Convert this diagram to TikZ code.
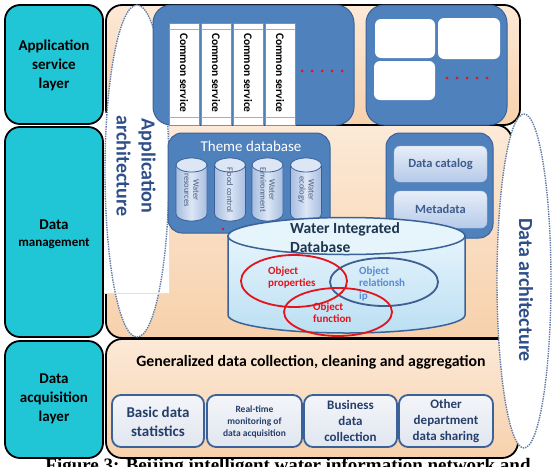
\documentclass[tikz,border=0pt]{standalone}
\usepackage{fontspec}
\setmainfont{Carlito}
\newfontfamily\capfont{Liberation Serif}

\definecolor{layercyan}{HTML}{21C6D6}
\definecolor{peachtop}{HTML}{FCE9D7}
\definecolor{peachbot}{HTML}{F7D1AC}
\definecolor{boxblue}{HTML}{4F81BD}
\definecolor{boxedge}{HTML}{3A6298}
\definecolor{archblue}{HTML}{2E4F8A}
\definecolor{cyllight}{HTML}{DCE6F5}
\definecolor{cyldark}{HTML}{A7BDE0}
\definecolor{cylink}{HTML}{4A5E80}
\definecolor{dblight}{HTML}{E6F4FC}
\definecolor{dbdark}{HTML}{BCDFF3}
\definecolor{dbink}{HTML}{1F3550}
\definecolor{objred}{HTML}{E2141C}
\definecolor{objblue}{HTML}{3D5F94}
\definecolor{relink}{HTML}{5C8AD0}
\definecolor{tileink}{HTML}{253F6B}
\definecolor{tiletop}{HTML}{F3F5F9}
\definecolor{tilebot}{HTML}{E1E6EF}
\definecolor{catlight}{HTML}{E6EEF9}
\definecolor{catdark}{HTML}{B6CAE9}
\definecolor{catink}{HTML}{3F5C8C}
\definecolor{dotred}{HTML}{E0141C}

\begin{document}
\begin{tikzpicture}[x=1pt,y=-1pt,
  layerbox/.style={draw=black,line width=1.8pt,fill=layercyan,rounded corners=15pt},
  layertext/.style={font=\bfseries\fontsize{15}{19}\selectfont,align=center},
  peachbox/.style={draw=black,line width=1.8pt,top color=peachtop,bottom color=peachbot,rounded corners=16pt},
  archell/.style={fill=white,draw=archblue!75,line width=1.4pt,densely dotted},
  archtext/.style={font=\bfseries\fontsize{20}{25}\selectfont,text=archblue,align=center,rotate=-90},
  bluebox/.style={fill=boxblue,draw=boxedge,line width=1pt,rounded corners=18pt},
  svccol/.style={fill=white,draw=boxedge!70,line width=0.6pt},
  svctext/.style={font=\bfseries\fontsize{11.5}{13}\selectfont,rotate=-90},
  whitetile/.style={fill=white,rounded corners=6pt},
  reddot/.style={fill=dotred},
  cylbody/.style={draw=boxedge,line width=0.8pt,left color=cyldark,right color=cyldark,middle color=cyllight},
  cylcap/.style={draw=boxedge,line width=0.8pt,fill=cyllight},
  cyllabel/.style={font=\fontsize{8.5}{9}\selectfont,text=cylink,align=center,rotate=-90},
  dbbody/.style={draw=boxedge,line width=1.5pt,top color=dblight,bottom color=dbdark},
  dbcap/.style={draw=boxedge,line width=1.5pt,fill=dblight},
  redring/.style={draw=objred,line width=1.8pt},
  bluering/.style={draw=objblue,line width=1.8pt},
  objlabel/.style={font=\bfseries\fontsize{11}{12.5}\selectfont,align=left,anchor=west,inner sep=0pt},
  cattile/.style={top color=catlight,bottom color=catdark,draw=boxedge!40,rounded corners=6pt},
  catlabel/.style={font=\bfseries\fontsize{12.5}{14}\selectfont,text=catink},
  acqtile/.style={draw=boxedge,line width=1.8pt,top color=tiletop,bottom color=tilebot,rounded corners=9pt},
  acqtext/.style={text=tileink,align=center}
]
\useasboundingbox (0,0) rectangle (556,466);
\fill[white] (0,0) rectangle (556,466);

% layers
\draw[layerbox] (5,5) rectangle (103,124);
\draw[layerbox] (5,127) rectangle (103,337);
\draw[layerbox] (5,341) rectangle (103,458);
\node[layertext] (applayer) at (54,65) {Application\\service\\layer};
\node[layertext] (datalayer) at (54,234) {Data\\[-2pt]{\fontsize{13}{16}\selectfont management}};
\node[layertext] (acqlayer) at (54,399) {Data\\acquisition\\layer};

% background of the three rows
\draw[peachbox] (106,125) rectangle (512,338);
\draw[peachbox] (106,5) rectangle (520,125);
\draw[peachbox] (106,339) rectangle (518,458);

% architecture ovals
\fill[white] (104,113) rectangle (169,293);
\draw[archell] (137,171) ellipse[x radius=32,y radius=166];
\draw[archell] (524,281) ellipse[x radius=27,y radius=167];
\draw[black!12] (104,293) -- (169,293) -- (169,113);
\node[archtext] (apparch) at (136,166) {Application\\architecture};
\node[archtext] (dataarch) at (526,290) {Data architecture};

% application services
\draw[bluebox] (153,5) rectangle (354,125);
\foreach \cx [count=\k] in {184,216,248,280} {
  \draw[svccol] (\cx-15,23) rectangle (\cx+15,125);
  \draw[boxedge!50] (\cx-15,29) -- (\cx+15,29) (\cx-15,117) -- (\cx+15,117);
  \node[svctext] (svc\k) at (\cx,73) {Common service};
}
\foreach \i in {0,...,4} \fill[reddot] (302+10*\i,71) circle[radius=1.5];
\draw[bluebox] (366,5) rectangle (507,125);
\fill[whitetile] (375,19) rectangle (435,58);
\fill[whitetile] (438,18) rectangle (500,59);
\fill[whitetile] (374,61) rectangle (435,100);
\foreach \i in {0,...,4} \fill[reddot] (447+10*\i,78) circle[radius=1.5];

% theme database
\draw[bluebox,rounded corners=14pt] (168,133) rectangle (330,233);
\node[font=\fontsize{15}{17}\selectfont,text=white] (themetitle) at (251,146) {Theme database};
\foreach \cx/\lbl [count=\k] in {191.5/{Water\\resources},230/{Flood control},267.5/{Water\\Environment},306/{Water\\ecology}} {
  \draw[cylbody] (\cx-15.5,165) -- (\cx-15.5,214) arc[start angle=180,end angle=0,x radius=15.5,y radius=7] -- (\cx+15.5,165) -- cycle;
  \draw[cylcap] (\cx,165) ellipse[x radius=15.5,y radius=7];
  \node[cyllabel] (theme\k) at (\cx,190) {\lbl};
}
\fill[reddot] (223,229) circle[radius=1.3];

% catalog
\draw[bluebox,rounded corners=14pt] (386,133) rectangle (493,238);
\draw[cattile] (394,146) rectangle (487,182);
\draw[cattile] (394,191) rectangle (487,228);
\node[catlabel] (catalog) at (440.5,164) {Data catalog};
\node[catlabel] (metadata) at (440.5,209.5) {Metadata};

% integrated database
\draw[dbbody] (228,236) -- (228,315) arc[start angle=180,end angle=0,x radius=118.5,y radius=18] -- (465,236) -- cycle;
\draw[dbcap] (346.5,236) ellipse[x radius=118.5,y radius=18.5];
\node[font=\bfseries\fontsize{15.5}{19}\selectfont,text=dbink,align=left,anchor=west,inner sep=0pt] (widb) at (290,237.5) {Water Integrated\\Database};
\draw[bluering] (384,282) ellipse[x radius=54,y radius=24];
\draw[redring] (294,281) ellipse[x radius=53,y radius=26];
\draw[redring] (338,312) ellipse[x radius=54,y radius=24];
\node[objlabel,text=objred] (objprop) at (268,277.5) {Object\\properties};
\node[objlabel,text=relink] (objrel) at (359,283.5) {Object\\relationsh\\ip};
\node[objlabel,text=objred] (objfunc) at (313,312.5) {Object\\function};

% acquisition
\node[font=\bfseries\fontsize{15.8}{18}\selectfont] (gentitle) at (311,362) {Generalized data collection, cleaning and aggregation};
\foreach \xa/\xb [count=\k] in {112/204,207/302,304/397,399/493}
  \draw[acqtile] (\xa,395) rectangle (\xb,447);
\node[acqtext,font=\bfseries\fontsize{15}{19}\selectfont] (basic) at (158,421.5) {Basic data\\statistics};
\node[acqtext,font=\bfseries\fontsize{9.5}{12}\selectfont] (realtime) at (254.5,422) {Real-time\\monitoring of\\data acquisition};
\node[acqtext,font=\bfseries\fontsize{13}{16}\selectfont] (business) at (350.5,421) {Business\\data\\collection};
\node[acqtext,font=\bfseries\fontsize{13}{16}\selectfont] (otherdept) at (446,421) {Other\\department\\data sharing};

\node[font=\capfont\bfseries\fontsize{19}{22}\selectfont,anchor=base] (figcap) at (288,471) {Figure 3: Beijing intelligent water information network and};
\end{tikzpicture}
\end{document}
